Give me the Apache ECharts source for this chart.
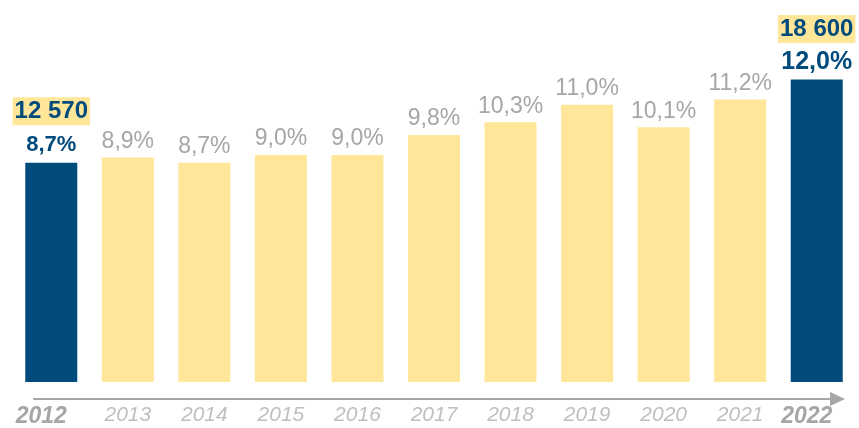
<!DOCTYPE html>
<html><head><meta charset="utf-8">
<script src="https://cdn.jsdelivr.net/npm/echarts@6/dist/echarts.min.js"></script>
<style>html,body{margin:0;padding:0;background:#fff}#c{width:859px;height:428px}</style>
</head><body><div id="c"></div>
<script>
const years = ['2012','2013','2014','2015','2016','2017','2018','2019','2020','2021','2022'];
const shares = [8.7, 8.9, 8.7, 9.0, 9.0, 9.8, 10.3, 11.0, 10.1, 11.2, 12.0];
const amounts = [12570, null, null, null, null, null, null, null, null, null, 18600];

const BLUE = '#004a7c', YELLOW = '#ffe699', GRAY = '#a6a6a6', LIGHT = '#bfbfbf';
const FONT = 'Arial, "Liberation Sans", sans-serif';
const fmtPct = v => v.toFixed(1).replace('.', ',') + '%';
const fmtAmt = v => String(v).replace(/\B(?=(\d{3})+(?!\d))/g, ' ');
const isKey = i => amounts[i] != null;
const last = years.length - 1;

const data = shares.map((v, i) => ({
  value: v,
  itemStyle: { color: isKey(i) ? BLUE : YELLOW },
  label: {
    formatter: isKey(i)
      ? '{a|' + fmtAmt(amounts[i]) + '}\n{' + (i === last ? 'q' : 'p') + '|' + fmtPct(v) + '}'
      : '{g|' + fmtPct(v) + '}'
  }
}));

const chart = echarts.init(document.getElementById('c'), null, { renderer: 'canvas' });
chart.setOption({
  animation: false,
  backgroundColor: '#fff',
  textStyle: { fontFamily: FONT },
  grid: [
    { left: 13, right: 4, top: 29, bottom: 42 },
    { left: 34, right: 21.5, top: 0, bottom: 29 }
  ],
  xAxis: [
    {
      gridIndex: 0, type: 'category', data: years,
      axisLine: { show: false }, axisTick: { show: false },
      axisLabel: {
        interval: 0, margin: 23,
        formatter: (val, idx) => isKey(idx) ? '{b|' + val + '}' : '{n|' + val + '}',
        rich: {
          n: { fontSize: 21, fontStyle: 'italic', color: LIGHT, fontFamily: FONT },
          b: { fontSize: 23, fontStyle: 'italic', fontWeight: 'bold', color: GRAY, fontFamily: FONT, padding: [0, 20, 0, 0] }
        }
      }
    },
    {
      gridIndex: 1, type: 'value', min: 0, max: 1,
      axisLine: { show: true, symbol: ['none', 'triangle'], symbolSize: [14, 15], lineStyle: { color: GRAY, width: 2 } },
      axisTick: { show: false }, axisLabel: { show: false }, splitLine: { show: false }
    }
  ],
  yAxis: [
    { gridIndex: 0, type: 'value', min: 0, max: 14, show: false },
    { gridIndex: 1, type: 'value', min: 0, max: 1, show: false }
  ],
  series: [{
    type: 'bar', xAxisIndex: 0, yAxisIndex: 0,
    barWidth: 52,
    data: data,
    label: {
      show: true, position: 'top', distance: -1,
      rich: {
        g: { fontSize: 23, color: GRAY, lineHeight: 34, fontFamily: FONT },
        p: { fontSize: 22, fontWeight: 'bold', color: BLUE, lineHeight: 38, fontFamily: FONT },
        q: { fontSize: 25, fontWeight: 'bold', color: BLUE, lineHeight: 37, fontFamily: FONT },
        a: { fontSize: 24, fontWeight: 'bold', color: BLUE, lineHeight: 29, backgroundColor: YELLOW, padding: [2, 2, 2, 2], fontFamily: FONT }
      }
    }
  }]
});
</script>
</body></html>
